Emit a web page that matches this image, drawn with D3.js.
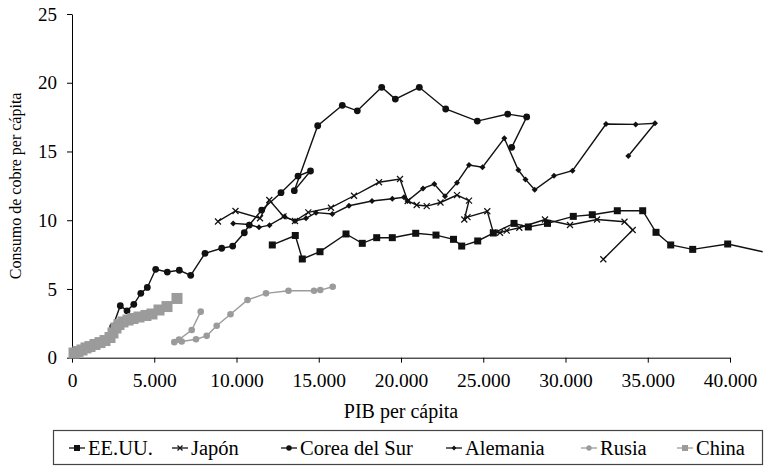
<!DOCTYPE html>
<html>
<head>
<meta charset="utf-8">
<script src="https://cdn.jsdelivr.net/npm/d3@7"></script>
<style>
  body { margin: 0; background: #fff; }
  text { font-family: "Liberation Serif", "DejaVu Serif", serif !important; fill: #000; }
  .axis path, .axis line { stroke: #000; stroke-width: 1; }
</style>
</head>
<body>
<div id="chart"></div>
<script>
// PIB per cápita (x) vs consumo de cobre per cápita (y)
const usaX = [12176, 13574, 14000, 15076, 16657, 17647, 18523, 19471, 20894, 22128, 23191, 23690, 24663, 25611, 26869, 27739, 28906, 30474, 31629, 33149, 34693, 35502, 36395, 37733, 39860, 41988];
const usaY = [8.20, 8.89, 7.18, 7.71, 9.00, 8.32, 8.73, 8.73, 9.05, 8.92, 8.61, 8.12, 8.49, 9.07, 9.77, 9.51, 9.77, 10.28, 10.40, 10.69, 10.69, 9.12, 8.20, 7.88, 8.27, 7.71];

const japanX = [8875, 9939, 11429, 11994, 12857, 13556, 14365, 15745, 17143, 18663, 19939, 20407, 20954, 21562, 22401, 23404, 24134, 23848, 24043, 25246, 25611, 26018, 26426, 27192, 28754, 30274, 31915, 33587, 34085, 32298];
const japanY = [9.91, 10.67, 10.14, 11.47, 10.28, 9.94, 10.57, 10.91, 11.78, 12.76, 13.00, 11.40, 11.11, 11.03, 11.29, 11.83, 11.42, 10.05, 10.23, 10.65, 9.12, 9.09, 9.24, 9.45, 10.05, 9.65, 10.05, 9.89, 9.29, 7.16];

const koreaX = [2474, 2936, 3343, 3757, 4182, 4578, 5088, 5793, 6523, 7216, 8085, 9100, 9769, 10474, 10778, 11532, 12705, 13739, 14498, 13514, 14936, 16432, 17344, 18827, 19654, 21113, 22717, 24638, 26486, 27641, 26729];
const koreaY = [2.25, 3.78, 3.41, 3.88, 4.68, 5.11, 6.43, 6.23, 6.36, 5.99, 7.59, 7.96, 8.12, 9.09, 9.65, 10.74, 12.00, 13.21, 13.58, 12.15, 16.87, 18.36, 17.96, 19.67, 18.81, 19.67, 18.09, 17.21, 17.72, 17.51, 15.30];

const germanyX = [9799, 10772, 11368, 12006, 12918, 13556, 14225, 14833, 15824, 16839, 18237, 19471, 20182, 20395, 21337, 22024, 22675, 23404, 24134, 24954, 26280, 27131, 27568, 28128, 29301, 30426, 32462, 34267, 35441, 33818];
const germanyY = [9.77, 9.69, 9.48, 9.64, 10.27, 9.94, 10.14, 10.55, 10.45, 11.05, 11.40, 11.56, 11.67, 11.40, 12.31, 12.63, 11.74, 12.73, 14.01, 13.85, 15.96, 13.65, 12.97, 12.22, 13.23, 13.60, 17.00, 16.97, 17.05, 14.67];

const russiaX = [7824, 7277, 6505, 6219, 6669, 7538, 8188, 8796, 9635, 10669, 11793, 13161, 14711, 15094, 15848];
const russiaY = [3.35, 2.01, 1.32, 1.13, 1.18, 1.34, 1.59, 2.32, 3.16, 4.20, 4.68, 4.87, 4.87, 4.92, 5.16];

const chinaX = [122, 365, 608, 851, 1094, 1398, 1702, 2006, 2310, 2492, 2675, 2857, 3100, 3404, 3708, 4073, 4498, 4863, 5289, 5775, 6383];
const chinaY = [0.34, 0.45, 0.56, 0.71, 0.81, 0.96, 1.10, 1.25, 1.47, 1.80, 2.16, 2.41, 2.60, 2.74, 2.85, 2.96, 3.07, 3.18, 3.47, 3.72, 4.31];

const xTicks = [0, 5000, 10000, 15000, 20000, 25000, 30000, 35000, 40000];
const yTicks = [0, 5, 10, 15, 20, 25];

const zip = (xs, ys) => xs.map((x, i) => ({ x: x, y: ys[i] }));

const series = [
  { name: "EE.UU.", pts: zip(usaX, usaY), color: "#111", marker: "square", size: 7 },
  { name: "Japón", pts: zip(japanX, japanY), color: "#111", marker: "cross", size: 6 },
  { name: "Corea del Sur", pts: zip(koreaX, koreaY), color: "#111", marker: "circle", size: 3.4 },
  { name: "Alemania", pts: zip(germanyX, germanyY), color: "#111", marker: "diamond", size: 3 },
  { name: "Rusia", pts: zip(russiaX, russiaY), color: "#9b9b9b", marker: "circle", size: 3.3 },
  { name: "China", pts: zip(chinaX, chinaY), color: "#9b9b9b", marker: "square", size: 11 }
];

const W = 780, H = 476;
const x = d3.scaleLinear().domain([0, 40000]).range([72, 730]);
const y = d3.scaleLinear().domain([0, 25]).range([357.7, 14]);

const svg = d3.select("#chart").append("svg")
  .attr("width", W).attr("height", H);

const es = d3.formatLocale({ decimal: ",", thousands: ".", grouping: [3], currency: ["", ""] });

svg.append("g")
  .attr("class", "axis")
  .attr("transform", "translate(0," + y(0) + ")")
  .call(d3.axisBottom(x).tickValues(xTicks).tickSize(5).tickSizeOuter(0).tickPadding(6).tickFormat(es.format(",")))
  .selectAll("text").attr("dy", "0.95em").style("font-size", "19.5px");

svg.append("g")
  .attr("class", "axis")
  .attr("transform", "translate(" + x(0) + ",0)")
  .call(d3.axisLeft(y).tickValues(yTicks).tickSize(5).tickSizeOuter(0).tickPadding(10))
  .selectAll("text").style("font-size", "19px");

svg.append("text")
  .attr("x", (x(0) + x(40000)) / 2).attr("y", 418)
  .attr("text-anchor", "middle").style("font-size", "20px")
  .text("PIB per cápita");

svg.append("text")
  .attr("transform", "translate(21," + (y(0) + y(25)) / 2 + ") rotate(-90)")
  .attr("text-anchor", "middle").style("font-size", "16px")
  .text("Consumo de cobre per cápita");

const line = d3.line().x((d) => x(d.x)).y((d) => y(d.y));

function drawMarker(sel, s) {
  const r = s.size;
  if (s.marker === "square") {
    sel.append("rect")
      .attr("x", -r / 2).attr("y", -r / 2).attr("width", r).attr("height", r)
      .style("fill", s.color);
  } else if (s.marker === "circle") {
    sel.append("circle").attr("r", r).style("fill", s.color);
  } else if (s.marker === "diamond") {
    sel.append("path")
      .attr("d", "M0," + (-r) + "L" + r + ",0L0," + r + "L" + (-r) + ",0Z")
      .style("fill", s.color);
  } else if (s.marker === "cross") {
    const h = r / 2;
    sel.append("path")
      .attr("d", "M" + (-h) + "," + (-h) + "L" + h + "," + h + "M" + (-h) + "," + h + "L" + h + "," + (-h))
      .style("stroke", s.color).style("stroke-width", 1.2).style("fill", "none");
  }
}

for (let s of series) {
  const g = svg.append("g");
  g.append("path")
    .datum(s.pts)
    .attr("d", line)
    .style("fill", "none")
    .style("stroke", s.color)
    .style("stroke-width", 1.4);

  g.selectAll(".pt")
    .data(s.pts.filter((d) => d.x <= 40000)).enter()
    .append("g")
    .attr("transform", (d) => "translate(" + x(d.x) + "," + y(d.y) + ")")
    .each(function() { drawMarker(d3.select(this), s); });
}

// legend
const legend = svg.append("g");
legend.append("rect")
  .attr("x", 53.5).attr("y", 430.5).attr("width", 709).attr("height", 34)
  .style("fill", "#fff").style("stroke", "#444").style("stroke-width", 1.2);

const legendMarkX = [77, 180, 289, 454, 589, 685];
series.forEach((s, i) => {
  const g = legend.append("g").attr("transform", "translate(" + legendMarkX[i] + ",448)");
  g.append("line").attr("x1", -8).attr("x2", 8).attr("y1", 0).attr("y2", 0)
    .style("stroke", s.color).style("stroke-width", 1.3);
  const small = s.marker === "square" ? 6 : (s.marker === "cross" ? 5 : s.size * 0.8);
  drawMarker(g.append("g"), Object.assign({}, s, { size: small }));
  g.append("text").attr("x", 11).attr("y", 0).attr("dy", "0.33em")
    .style("font-size", "20.5px").text(s.name);
});
</script>
</body>
</html>
